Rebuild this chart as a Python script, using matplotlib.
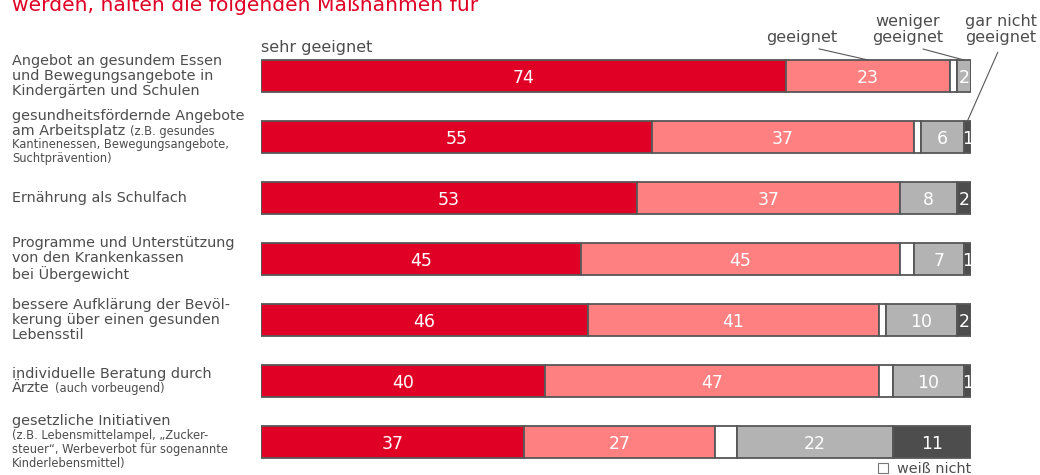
import matplotlib
matplotlib.use("Agg")
import matplotlib.pyplot as plt
from matplotlib.offsetbox import TextArea, HPacker, VPacker, AnnotationBbox
from matplotlib.patches import Patch

# Anteile in Prozent je Maßnahme (von oben nach unten)
sehr_geeignet = [74, 55, 53, 45, 46, 40, 37]
geeignet = [23, 37, 37, 45, 41, 47, 27]
weiss_nicht = [1, 1, 0, 2, 1, 2, 3]
weniger_geeignet = [2, 6, 8, 7, 10, 10, 22]
gar_nicht_geeignet = [0, 1, 2, 1, 2, 1, 11]

massnahmen = [
    "Angebot an gesundem Essen\nund Bewegungsangebote in\nKindergärten und Schulen",
    "gesundheitsfördernde Angebote\nam Arbeitsplatz",
    "Ernährung als Schulfach",
    "Programme und Unterstützung\nvon den Krankenkassen\nbei Übergewicht",
    "bessere Aufklärung der Bevöl-\nkerung über einen gesunden\nLebensstil",
    "individuelle Beratung durch\nÄrzte",
    "gesetzliche Initiativen",
]
# Zusätze in kleiner Schrift; ein führender Zeilenumbruch beginnt eine neue Zeile
hinweise = [
    "",
    "(z.B. gesundes\nKantinenessen, Bewegungsangebote,\nSuchtprävention)",
    "",
    "",
    "",
    "(auch vorbeugend)",
    "\n(z.B. Lebensmittelampel, \u201eZucker-\nsteuer\u201c, Werbeverbot für sogenannte\nKinderlebensmittel)",
]

titel = "werden, halten die folgenden Maßnahmen für"

RED = "#E00025"
PINK = "#FF8080"
LIGHT = "#B3B3B3"
DARK = "#4D4D4D"
EDGE = "#575757"
TEXT = "#4D4D4D"
LABEL_SIZE = 10.4
NOTE_SIZE = 8.3

W, H = 1040, 475
fig = plt.figure(figsize=(W / 100, H / 100), dpi=100)
ax = fig.add_axes([261 / W, 2.5 / H, 710 / W, 427 / H])
ax.set_xlim(0, 100)
ax.set_ylim(6.5, -0.5)
ax.axis("off")

rows = list(range(len(massnahmen)))
bar_h = 0.525
series = [
    (sehr_geeignet, RED, True),
    (geeignet, PINK, True),
    (weiss_nicht, "white", False),
    (weniger_geeignet, LIGHT, True),
    (gar_nicht_geeignet, DARK, True),
]
left = [0] * len(rows)
centers = []
for values, color, labelled in series:
    ax.barh(rows, values, left=left, height=bar_h, color=color,
            edgecolor=EDGE, linewidth=1.3)
    mids = [l + v / 2 for l, v in zip(left, values)]
    centers.append(mids)
    if labelled:
        for y, v, m in zip(rows, values, mids):
            if v > 0:
                ax.text(m, y, str(v), ha="center", va="center_baseline",
                        color="white", fontsize=12.5)
    left = [l + v for l, v in zip(left, values)]


def label_box(main, note):
    lines = [[(t, LABEL_SIZE)] for t in main.split("\n")]
    if note:
        parts = note.split("\n")
        if parts[0]:
            lines[-1].append((parts[0], NOTE_SIZE))
        lines += [[(p, NOTE_SIZE)] for p in parts[1:]]
    packed = []
    for line in lines:
        areas = [TextArea(t, textprops=dict(fontsize=s, color=TEXT)) for t, s in line]
        packed.append(HPacker(children=areas, align="baseline", pad=0, sep=3.5))
    return VPacker(children=packed, align="left", pad=0, sep=0.6)


for y, main, note in zip(rows, massnahmen, hinweise):
    ab = AnnotationBbox(label_box(main, note), (12 / W, y),
                        xycoords=("figure fraction", "data"),
                        box_alignment=(0, 0.5), frameon=False, pad=0,
                        annotation_clip=False)
    ax.add_artist(ab)

# Spaltenbeschriftungen mit Hinweislinien
top = -bar_h / 2
ax.annotate("sehr geeignet", xy=(0, top), xytext=(0, 5), textcoords="offset pixels",
            ha="left", va="bottom", fontsize=11.5, color=TEXT)
line_style = dict(arrowstyle="-", color=EDGE, lw=0.8, shrinkA=3.5, shrinkB=0,
                  relpos=(0.5, 0))
ax.annotate("geeignet", xy=(centers[1][0], top), xytext=(802, H - 45),
            textcoords="figure pixels", ha="center", va="bottom",
            fontsize=11.5, color=TEXT, arrowprops=line_style)
ax.annotate("weniger\ngeeignet", xy=(centers[3][0], top), xytext=(908, H - 45),
            textcoords="figure pixels", ha="center", va="bottom",
            fontsize=11.5, color=TEXT, linespacing=1.1, arrowprops=line_style)
ax.annotate("gar nicht\ngeeignet", xy=(centers[4][1], 1 - bar_h / 2),
            xytext=(1001, H - 45), textcoords="figure pixels", ha="center",
            va="bottom", fontsize=11.5, color=TEXT, linespacing=1.1,
            arrowprops=line_style)

fig.text(12 / W, 1 - 11 / H, titel, color=RED, fontsize=14.6, va="baseline")

ax.legend(handles=[Patch(facecolor="white", edgecolor="#777777", linewidth=0.8)],
          labels=["weiß nicht"], loc="center right",
          bbox_to_anchor=(971 / W, 6 / H), bbox_transform=fig.transFigure,
          frameon=False, borderaxespad=0, borderpad=0, handlelength=0.7,
          handleheight=0.7, handletextpad=0.6, fontsize=LABEL_SIZE,
          labelcolor=TEXT)

fig.savefig("out.png", dpi=100)
